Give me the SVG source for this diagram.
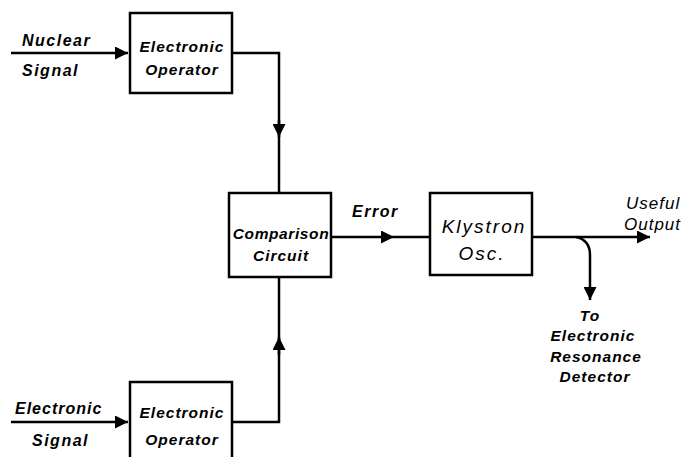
<svg xmlns="http://www.w3.org/2000/svg" width="694" height="457" viewBox="0 0 694 457">
<style>
.box{fill:#fff;stroke:#000;stroke-width:2.5}
.ln{fill:none;stroke:#000;stroke-width:2.5}
text{font-family:"Liberation Sans",Arial,sans-serif;font-style:italic;font-weight:bold;fill:#000;font-size:15.5px;letter-spacing:1px}
.c{text-anchor:middle}
.big{font-size:19px;font-weight:normal;letter-spacing:2px}
.lab{font-size:16px;letter-spacing:1.5px}
</style>
<defs>
<marker id="ar" viewBox="0 0 10 10" refX="10" refY="5" markerWidth="16" markerHeight="13" markerUnits="userSpaceOnUse" orient="auto">
<path d="M0,0L10,5L0,10z" fill="#000"/>
</marker>
</defs>
<g id="connectors">
<line class="ln" x1="11" y1="53" x2="128" y2="53" marker-end="url(#ar)"/>
<path class="ln" d="M232,53H279V137"/>
<line class="ln" x1="279" y1="120" x2="279" y2="137" marker-end="url(#ar)"/>
<line class="ln" x1="279" y1="137" x2="279" y2="193"/>
<line class="ln" x1="11" y1="422" x2="128" y2="422" marker-end="url(#ar)"/>
<path class="ln" d="M232,422H279V337"/>
<line class="ln" x1="279" y1="355" x2="279" y2="337" marker-end="url(#ar)"/>
<line class="ln" x1="279" y1="337" x2="279" y2="277"/>
<line class="ln" x1="331" y1="237" x2="394" y2="237" marker-end="url(#ar)"/>
<line class="ln" x1="394" y1="237" x2="430" y2="237"/>
<line class="ln" x1="532" y1="237" x2="650" y2="237" marker-end="url(#ar)"/>
<path class="ln" d="M576,237Q590,240 590,255V300" marker-end="url(#ar)"/>
</g>
<g id="op1">
<rect class="box" x="130" y="13" width="102" height="80"/>
<text class="c" x="182" y="52">Electronic</text>
<text class="c" x="182" y="75">Operator</text>
</g>
<g id="comp">
<rect class="box" x="229" y="193" width="102" height="84"/>
<text class="c" x="281" y="239" style="letter-spacing:0.6px">Comparison</text>
<text class="c" x="281" y="261">Circuit</text>
</g>
<g id="kly">
<rect class="box" x="430" y="193" width="102" height="82"/>
<text class="c big" x="484" y="233">Klystron</text>
<text class="c big" x="482" y="260">Osc.</text>
</g>
<g id="op2">
<rect class="box" x="130" y="382" width="102" height="80"/>
<text class="c" x="182" y="418">Electronic</text>
<text class="c" x="182" y="445">Operator</text>
</g>
<g id="labels">
<text class="lab" x="22" y="46">Nuclear</text>
<text class="lab" x="22" y="76">Signal</text>
<text class="lab" x="15" y="414" style="letter-spacing:1px">Electronic</text>
<text class="lab" x="32" y="446">Signal</text>
<text class="lab" x="352" y="217">Error</text>
<text x="626" y="209" style="font-weight:normal;font-size:17px">Useful</text>
<text x="624" y="230" style="font-weight:normal;font-size:17px">Output</text>
<text class="c" x="590" y="321">To</text>
<text class="c" x="593" y="341">Electronic</text>
<text class="c" x="596" y="362">Resonance</text>
<text class="c" x="595" y="382">Detector</text>
</g>
</svg>
